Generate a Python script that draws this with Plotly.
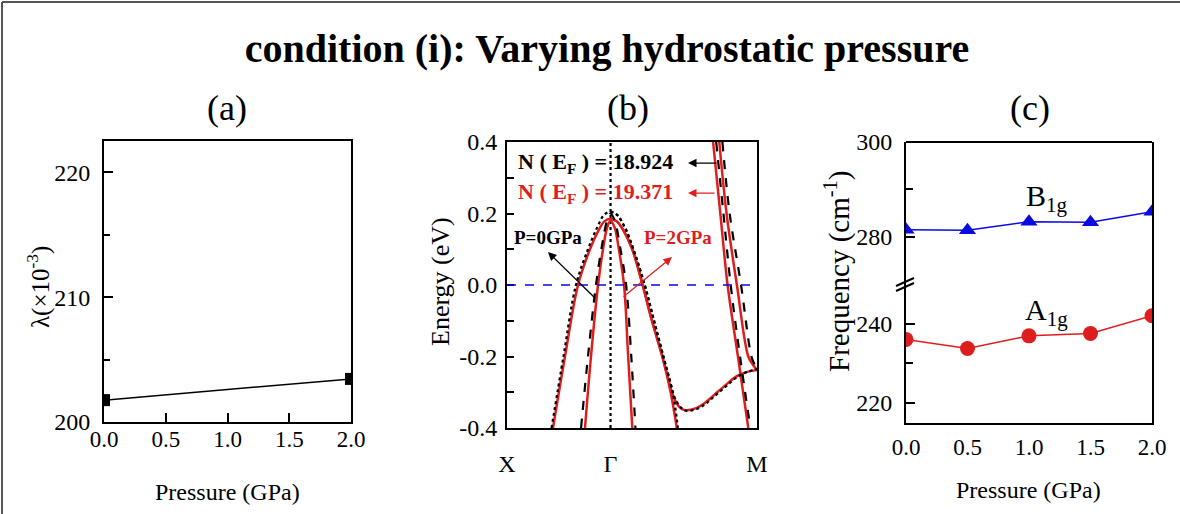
import plotly.graph_objects as go

W, H = 1180, 514
FONT = "Liberation Serif, Times New Roman, serif"
RED = "rgb(222,30,30)"
BLUE = "rgb(10,10,225)"

# (a) coupling constant vs pressure
pressure_a = [0.0, 2.0]
lambda_a = [201.75, 203.45]

# (b) band structure along X - Gamma - M, energies in eV
kpoints = [0.0, 1.0, 2.414]
klabels = ["X", "Γ", "M"]

# P=2GPa (red, solid)
r_outer_k = [0.444, 0.560, 0.686, 0.801, 0.879, 0.94, 1.0, 1.06, 1.13, 1.21, 1.31, 1.40, 1.50, 1.58, 1.64]
r_outer_e = [-0.40, -0.20, 0.00, 0.10, 0.15, 0.178, 0.185, 0.178, 0.15, 0.10, 0.00, -0.10, -0.20, -0.30, -0.40]
r_inner_k = [0.753, 0.811, 0.879, 0.927, 0.966, 1.0, 1.04, 1.08, 1.13, 1.17, 1.21]
r_inner_e = [-0.40, -0.20, 0.00, 0.10, 0.16, 0.18, 0.16, 0.10, 0.00, -0.20, -0.40]
r_low_k = [1.0, 1.06, 1.13, 1.21, 1.31, 1.40, 1.50, 1.56, 1.61, 1.67, 1.72, 1.82, 1.91, 1.99, 2.11, 2.22, 2.32, 2.414]
r_low_e = [0.185, 0.178, 0.15, 0.10, 0.00, -0.10, -0.20, -0.265, -0.315, -0.343, -0.350, -0.345, -0.330, -0.310, -0.280, -0.255, -0.243, -0.238]
r_m1_k = [1.99, 2.06, 2.13, 2.23, 2.33]
r_m1_e = [0.40, 0.20, 0.00, -0.20, -0.40]
r_m2_k = [2.05, 2.12, 2.22, 2.33, 2.38, 2.414]
r_m2_e = [0.40, 0.20, 0.00, -0.20, -0.225, -0.238]

# P=0GPa (black, dashed)
b_outer_k = [0.43, 0.545, 0.666, 0.782, 0.869, 0.94, 1.0, 1.06, 1.14, 1.22, 1.33, 1.42, 1.51, 1.60, 1.65]
b_outer_e = [-0.40, -0.20, 0.00, 0.10, 0.16, 0.197, 0.205, 0.197, 0.16, 0.10, 0.00, -0.10, -0.20, -0.30, -0.40]
b_inner_k = [0.715, 0.782, 0.859, 0.917, 0.966, 1.0, 1.04, 1.09, 1.15, 1.20, 1.24]
b_inner_e = [-0.40, -0.20, 0.00, 0.11, 0.18, 0.20, 0.18, 0.11, 0.00, -0.20, -0.40]
b_low_k = [1.0, 1.06, 1.14, 1.22, 1.33, 1.42, 1.51, 1.57, 1.62, 1.68, 1.73, 1.83, 1.92, 2.0, 2.12, 2.23, 2.33, 2.414]
b_low_e = [0.205, 0.197, 0.16, 0.10, 0.00, -0.10, -0.20, -0.265, -0.315, -0.343, -0.352, -0.347, -0.332, -0.312, -0.282, -0.256, -0.242, -0.235]
b_m1_k = [2.02, 2.09, 2.16, 2.25, 2.35]
b_m1_e = [0.40, 0.20, 0.00, -0.20, -0.40]
b_m2_k = [2.08, 2.15, 2.26, 2.36, 2.39, 2.414]
b_m2_e = [0.40, 0.20, 0.00, -0.20, -0.222, -0.235]

# (c) phonon frequencies
pressure_c = [0.0, 0.5, 1.0, 1.5, 2.0]
b1g = [281.5, 281.4, 283.2, 283.1, 285.3]
a1g = [236.1, 233.8, 237.0, 237.6, 242.1]


def px(x):
    return x / W


def py(y):
    return 1 - y / H


fig = go.Figure()

# ---- (a)
fig.add_trace(go.Scatter(x=pressure_a, y=lambda_a, mode="lines+markers",
                         line=dict(color="black", width=1.5),
                         marker=dict(symbol="square", size=12, color="black"),
                         xaxis="x", yaxis="y"))

# ---- (b)
black_bands = [(b_outer_k, b_outer_e, "dot"), (b_low_k, b_low_e, "dot"),
               (b_inner_k, b_inner_e, "dash"), (b_m1_k, b_m1_e, "dash"), (b_m2_k, b_m2_e, "dash")]
red_bands = [(r_outer_k, r_outer_e), (r_low_k, r_low_e), (r_inner_k, r_inner_e),
             (r_m1_k, r_m1_e), (r_m2_k, r_m2_e)]
for k, e in red_bands:
    fig.add_trace(go.Scatter(x=k, y=e, mode="lines", line=dict(color=RED, width=2.5, shape="spline"),
                             xaxis="x2", yaxis="y2"))
for k, e, d in black_bands:
    fig.add_trace(go.Scatter(x=k, y=e, mode="lines",
                             line=dict(color="black", width=2.2, dash=d, shape="spline"),
                             xaxis="x2", yaxis="y2"))

# ---- (c)
fig.add_trace(go.Scatter(x=pressure_c, y=b1g, mode="lines+markers",
                         line=dict(color=BLUE, width=1.5),
                         marker=dict(symbol="triangle-up", size=15, color=BLUE),
                         xaxis="x3", yaxis="y4"))
fig.add_trace(go.Scatter(x=pressure_c, y=a1g, mode="lines+markers",
                         line=dict(color=RED, width=1.5),
                         marker=dict(symbol="circle", size=15, color=RED),
                         xaxis="x3", yaxis="y3"))

axis_common = dict(showline=True, linecolor="black", linewidth=2, mirror=True, automargin=False,
                   showgrid=False, zeroline=False, ticks="inside", ticklen=9,
                   tickcolor="black", tickwidth=1.5,
                   tickfont=dict(family=FONT, size=23, color="black"))
yfont = dict(family=FONT, size=24, color="black")

num_ticks = [0, 0.5, 1, 1.5, 2]
num_text = ["0.0", "0.5", "1.0", "1.5", "2.0"]

fig.update_layout(
    width=W, height=H, margin=dict(l=0, r=0, t=0, b=0, autoexpand=False),
    paper_bgcolor="white", plot_bgcolor="white", showlegend=False,
    title=dict(text="condition (i): Varying hydrostatic pressure", x=px(607), y=py(48),
               xanchor="center", yanchor="middle",
               font=dict(family=FONT, size=40, color="black", weight="bold")),
    xaxis=dict(axis_common, domain=[px(104), px(351)], range=[0, 2], anchor="y",
               tickvals=num_ticks, ticktext=num_text, ticklabelstandoff=-5),
    yaxis=dict(axis_common, domain=[py(422), py(141)], range=[200, 222.5], anchor="x",
               tickfont=yfont, ticklabelstandoff=7,
               tickvals=[200, 210, 220], minor=dict(tickvals=[205, 215], ticks="inside", ticklen=6,
                                                      tickcolor="black")),
    xaxis2=dict(axis_common, domain=[px(507), px(757)], range=[0, kpoints[-1]], anchor="y2",
                tickvals=kpoints, ticktext=klabels, ticks="", ticklabelstandoff=13,
                tickfont=dict(family=FONT, size=24, color="black")),
    yaxis2=dict(axis_common, domain=[py(428), py(142)], range=[-0.4, 0.4], anchor="x2",
                tickfont=yfont, ticklabelstandoff=3,
                tickvals=[-0.4, -0.2, 0, 0.2, 0.4], ticktext=["-0.4", "-0.2", "0.0", "0.2", "0.4"],
                ticklen=7,
                minor=dict(tickvals=[-0.3, -0.1, 0.1, 0.3], ticks="inside", ticklen=7, tickcolor="black")),
    xaxis3=dict(axis_common, domain=[px(906), px(1152)], range=[0, 2], anchor="y3",
                tickvals=num_ticks, ticktext=num_text, ticks="", mirror=False,
                ticklabelstandoff=2),
    yaxis3=dict(axis_common, domain=[py(423), py(283)], range=[214.9, 250.4], anchor="x3",
                tickfont=yfont, ticklabelstandoff=7,
                tickvals=[220, 240], minor=dict(tickvals=[230], ticks="inside", ticklen=7, tickcolor="black")),
    yaxis4=dict(axis_common, domain=[py(283), py(142)], range=[270.3, 300], anchor="x3",
                tickfont=yfont, ticklabelstandoff=7,
                tickvals=[280, 300], minor=dict(tickvals=[290], ticks="inside", ticklen=7, tickcolor="black")),
)

shapes = [
    # outer frame of the picture
    dict(type="line", xref="paper", yref="paper", x0=px(2), x1=1, y0=py(2), y1=py(2),
         line=dict(color="#555", width=2)),
    dict(type="line", xref="paper", yref="paper", x0=px(2), x1=px(2), y0=0, y1=py(2),
         line=dict(color="#555", width=2)),
    # Fermi level and Gamma line in (b)
    dict(type="line", xref="x2 domain", yref="y2", x0=0, x1=1, y0=0, y1=0,
         line=dict(color=BLUE, width=1.6, dash="dash")),
    dict(type="line", xref="x2", yref="y2 domain", x0=kpoints[1], x1=kpoints[1], y0=0, y1=1,
         line=dict(color="black", width=2.2, dash="dot"), layer="below"),
    # top of (c) frame
    dict(type="line", xref="x3 domain", yref="y4 domain", x0=0, x1=1, y0=1, y1=1,
         line=dict(color="black", width=2)),
    # axis break marks
    dict(type="line", xref="paper", yref="paper", x0=px(896), x1=px(914), y0=py(286), y1=py(278),
         line=dict(color="black", width=2)),
    dict(type="line", xref="paper", yref="paper", x0=px(896), x1=px(914), y0=py(291), y1=py(283),
         line=dict(color="black", width=2)),
]
fig.update_layout(shapes=shapes)


def label(text, x, y, size, angle=0, color="black", bold=False, xref="paper", yref="paper"):
    fig.add_annotation(text=text, x=x, y=y, xref=xref, yref=yref, showarrow=False,
                       textangle=angle, xanchor="center", yanchor="middle",
                       font=dict(family=FONT, size=size, color=color,
                                 weight="bold" if bold else "normal"))


def arrow(x, y, ax, ay, color):
    fig.add_annotation(x=x, y=y, ax=ax, ay=ay, xref="x2", yref="y2", axref="x2", ayref="y2",
                       text="", showarrow=True, arrowhead=2, arrowsize=1.3, arrowwidth=1.3,
                       arrowcolor=color)


# panel letters
label("(a)", px(227), py(108), 36)
label("(b)", px(628), py(108), 36)
label("(c)", px(1030), py(108), 36)

# axis titles
label("Pressure (GPa)", px(227), py(492), 24)
label("Pressure (GPa)", px(1028), py(490), 24)
label("λ(×10<sup>-3</sup>)", px(38), py(287), 25, angle=-90)
label("Energy (eV)", px(440), py(282), 26, angle=-90)
label("Frequency (cm<sup>-1</sup>)", px(837), py(272), 29, angle=-90)

# (b) annotations
label("N ( E<sub>F</sub> ) = 18.924", 0.855, 0.341, 22, bold=True, xref="x2", yref="y2")
label("N ( E<sub>F</sub> ) = 19.371", 0.855, 0.257, 22, color=RED, bold=True, xref="x2", yref="y2")
label("P=0GPa", 0.396, 0.134, 19, bold=True, xref="x2", yref="y2")
label("P=2GPa", 1.651, 0.134, 19, color=RED, bold=True, xref="x2", yref="y2")
arrow(1.748, 0.341, 2.037, 0.341, "black")
arrow(1.748, 0.257, 2.018, 0.257, RED)
arrow(0.396, 0.092, 0.869, -0.042, "black")
arrow(1.593, 0.078, 1.110, -0.036, RED)

# (c) mode labels
label("B<sub>1g</sub>", 1.146, 288.2, 30, xref="x3", yref="y4")
label("A<sub>1g</sub>", 1.146, 243.0, 30, xref="x3", yref="y3")

fig.write_html("out.html", config={"displayModeBar": False},
               post_script="document.body.style.margin='0';")
